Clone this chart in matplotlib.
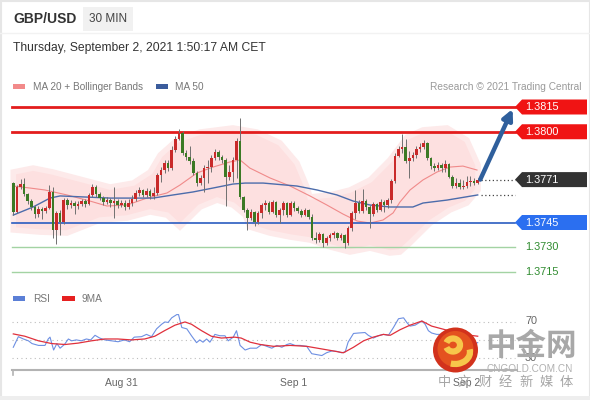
import matplotlib
matplotlib.use('Agg')
import matplotlib.pyplot as plt
import matplotlib.patches as patches
import matplotlib.transforms as mtransforms
import numpy as np

# ============================================================
# Data: GBP/USD 30 min candles
# ============================================================
first_open = 1.37689
closes = [1.37514, 1.37665, 1.37683, 1.37623, 1.37580, 1.37544, 1.37502, 1.37532, 1.37520, 1.37538,
          1.37635, 1.37405, 1.37508, 1.37453, 1.37586, 1.37556, 1.37568, 1.37550, 1.37562, 1.37580,
          1.37562, 1.37617, 1.37665, 1.37623, 1.37598, 1.37574, 1.37586, 1.37568, 1.37580, 1.37556,
          1.37568, 1.37544, 1.37568, 1.37592, 1.37629, 1.37647, 1.37617, 1.37641, 1.37611, 1.37629,
          1.37738, 1.37768, 1.37811, 1.37780, 1.37889, 1.37956, 1.37992, 1.37871, 1.37847, 1.37823,
          1.37750, 1.37689, 1.37720, 1.37780, 1.37786, 1.37841, 1.37877, 1.37847, 1.37829, 1.37726,
          1.37756, 1.37829, 1.37944, 1.37605, 1.37526, 1.37477, 1.37514, 1.37453, 1.37508, 1.37556,
          1.37568, 1.37514, 1.37574, 1.37495, 1.37526, 1.37568, 1.37495, 1.37568, 1.37538, 1.37520,
          1.37495, 1.37526, 1.37483, 1.37356, 1.37344, 1.37380, 1.37326, 1.37356, 1.37374, 1.37386,
          1.37356, 1.37374, 1.37326, 1.37417, 1.37508, 1.37568, 1.37520, 1.37580, 1.37544, 1.37502,
          1.37562, 1.37526, 1.37574, 1.37556, 1.37586, 1.37702, 1.37853, 1.37895, 1.37908, 1.37823,
          1.37841, 1.37859, 1.37895, 1.37908, 1.37932, 1.37841, 1.37792, 1.37780, 1.37799, 1.37780,
          1.37805, 1.37726, 1.37671, 1.37689, 1.37665, 1.37671, 1.37695, 1.37702, 1.37689, 1.37710]
highs = [1.37695, 1.37677, 1.37714, 1.37720, 1.37629, 1.37592, 1.37556, 1.37550, 1.37544, 1.37550,
         1.37677, 1.37665, 1.37520, 1.37526, 1.37598, 1.37598, 1.37586, 1.37580, 1.37580, 1.37592,
         1.37592, 1.37629, 1.37683, 1.37677, 1.37635, 1.37611, 1.37605, 1.37598, 1.37665, 1.37592,
         1.37586, 1.37586, 1.37592, 1.37617, 1.37647, 1.37665, 1.37653, 1.37659, 1.37653, 1.37665,
         1.37750, 1.37786, 1.37829, 1.37829, 1.37914, 1.37974, 1.38017, 1.38005, 1.37889, 1.37914,
         1.37841, 1.37762, 1.37738, 1.37799, 1.37829, 1.37859, 1.37895, 1.37889, 1.37859, 1.37841,
         1.37799, 1.37847, 1.37962, 1.38083, 1.37611, 1.37538, 1.37532, 1.37520, 1.37520, 1.37568,
         1.37586, 1.37580, 1.37586, 1.37580, 1.37538, 1.37580, 1.37574, 1.37580, 1.37580, 1.37550,
         1.37532, 1.37538, 1.37532, 1.37502, 1.37392, 1.37392, 1.37386, 1.37368, 1.37386, 1.37398,
         1.37392, 1.37386, 1.37380, 1.37429, 1.37520, 1.37647, 1.37586, 1.37653, 1.37592, 1.37556,
         1.37574, 1.37568, 1.37592, 1.37586, 1.37598, 1.37714, 1.37871, 1.37914, 1.37986, 1.37956,
         1.37883, 1.37877, 1.37914, 1.37932, 1.37950, 1.37938, 1.37847, 1.37811, 1.37817, 1.37811,
         1.37829, 1.37811, 1.37738, 1.37720, 1.37714, 1.37708, 1.37732, 1.37732, 1.37720, 1.37720]
lows = [1.37495, 1.37508, 1.37653, 1.37611, 1.37562, 1.37526, 1.37477, 1.37483, 1.37471, 1.37508,
        1.37532, 1.37356, 1.37320, 1.37374, 1.37441, 1.37532, 1.37538, 1.37502, 1.37532, 1.37550,
        1.37544, 1.37556, 1.37605, 1.37605, 1.37586, 1.37556, 1.37562, 1.37544, 1.37477, 1.37538,
        1.37544, 1.37526, 1.37532, 1.37550, 1.37580, 1.37611, 1.37605, 1.37605, 1.37592, 1.37592,
        1.37617, 1.37695, 1.37750, 1.37762, 1.37768, 1.37877, 1.37950, 1.37859, 1.37829, 1.37805,
        1.37738, 1.37671, 1.37677, 1.37635, 1.37689, 1.37756, 1.37829, 1.37829, 1.37811, 1.37550,
        1.37708, 1.37695, 1.37720, 1.37592, 1.37514, 1.37405, 1.37465, 1.37429, 1.37441, 1.37477,
        1.37526, 1.37502, 1.37508, 1.37483, 1.37447, 1.37495, 1.37483, 1.37489, 1.37520, 1.37508,
        1.37483, 1.37489, 1.37471, 1.37344, 1.37326, 1.37332, 1.37302, 1.37314, 1.37338, 1.37356,
        1.37344, 1.37344, 1.37295, 1.37314, 1.37398, 1.37471, 1.37508, 1.37508, 1.37526, 1.37417,
        1.37489, 1.37514, 1.37520, 1.37514, 1.37538, 1.37568, 1.37689, 1.37847, 1.37871, 1.37811,
        1.37720, 1.37823, 1.37841, 1.37877, 1.37895, 1.37829, 1.37774, 1.37762, 1.37768, 1.37756,
        1.37756, 1.37720, 1.37659, 1.37659, 1.37653, 1.37653, 1.37659, 1.37671, 1.37677, 1.37683]

# moving averages (bar index, price)
ma20_x = [0, 4.6, 8.8, 14.9, 21.3, 26, 31.6, 37.1, 42.7, 46.3, 51, 55.5, 60.2, 63, 65.7, 71.3,
          76.9, 82.4, 87.1, 91.6, 95.5, 99.1, 102.7, 105.5, 107.4, 110.2, 113.8, 117.7, 121.3, 124.9, 128.8]
ma20 = [1.37671, 1.37659, 1.37647, 1.37617, 1.37580, 1.37550, 1.37556, 1.37598, 1.37629, 1.37677,
        1.37750, 1.37786, 1.37817, 1.37829, 1.37780, 1.37720, 1.37671, 1.37611, 1.37556, 1.37501,
        1.37459, 1.37447, 1.37465, 1.37508, 1.37574, 1.37647, 1.37708, 1.37756, 1.37786, 1.37792, 1.37768]
ma50_x = [0, 5.5, 10.2, 13, 19.4, 26.9, 33.3, 38.8, 44.4, 49.9, 55.5, 61, 64.4, 69.4, 78.8, 84.4,
          89.9, 94.4, 99.1, 104.6, 111, 113.8, 120.5, 129]
ma50 = [1.37495, 1.37544, 1.37598, 1.37611, 1.37605, 1.37598, 1.37598, 1.37598, 1.37617, 1.37635,
        1.37659, 1.37683, 1.37689, 1.37689, 1.37671, 1.37647, 1.37617, 1.37580, 1.37556, 1.37544,
        1.37544, 1.37568, 1.37586, 1.37617]

# Bollinger bands (bar index, price)
bb_up_x = [0, 5.5, 11, 19.4, 26.9, 33.3, 38, 40.8, 45.5, 51.9, 61, 67.7, 74.1, 78.8, 81.6, 82.4,
           88, 93.5, 99.1, 104.6, 109.4, 113.8, 120.5, 126, 129.1]
bb_up = [1.37756, 1.37780, 1.37756, 1.37708, 1.37665, 1.37689, 1.37756, 1.37859, 1.37950, 1.37998,
         1.38023, 1.37998, 1.37932, 1.37811, 1.37665, 1.37605, 1.37617, 1.37647, 1.37708, 1.37829,
         1.37968, 1.38011, 1.38023, 1.37950, 1.37799]
bb_lo_x = [0, 7.4, 14.9, 24.1, 31.6, 38, 42.7, 46.3, 51.9, 56.6, 61, 64.4, 65.7, 71.3, 76.9, 82.4,
           88, 93.5, 99.1, 104.6, 107.4, 110.2, 115.8, 121.3, 126, 129.1]
bb_lo = [1.37405, 1.37392, 1.37386, 1.37465, 1.37477, 1.37514, 1.37495, 1.37423, 1.37544, 1.37586,
         1.37556, 1.37495, 1.37423, 1.37386, 1.37362, 1.37344, 1.37302, 1.37271, 1.37295, 1.37265,
         1.37271, 1.37326, 1.37447, 1.37526, 1.37568, 1.37647]

# Key levels
resistances = [1.3815, 1.3800]
pivot = 1.3771
support_main = 1.3745
supports_minor = [1.3730, 1.3715]

# RSI panel (bar index, value)
rsi_x = [0, 1.4, 2.8, 4.2, 5.2, 7, 8.8, 9.7, 10.2, 11.2, 12.1, 13, 14.2, 15.3, 16.2, 17.5, 18.9,
         20.3, 21.5, 22.7, 24, 25.4, 27.3, 29.1, 30.9, 32.3, 33.6, 35.6, 37, 38.4, 39.8, 41.2, 42.1,
         43, 44, 45.4, 45.9, 46.8, 48.2, 49.5, 50.9, 51.8, 52.7, 53.7, 54.6, 56, 57.4, 58.8, 59.7,
         61.1, 62, 63, 64.4, 65.8, 67.6, 69, 70.4, 71.8, 73.2, 74.6, 76, 76.9, 78.3, 79.7, 81.5,
         82.9, 84.3, 85.7, 87, 88.5, 89.9, 91.2, 92.2, 93, 94.5, 95.9, 97.7, 98.6, 100, 101.4,
         102.8, 104.2, 105.6, 107, 108.4, 109.3, 110.2, 111.6, 113.5, 114.4, 115.3, 116.2, 117.6,
         118.6, 120, 122, 124, 126, 128, 129]
rsi = [42, 53.5, 51, 49, 46, 44, 44, 51, 53, 39, 46, 41, 45, 51, 49, 50, 49, 51, 50, 55, 52, 50,
       49, 48, 50, 48, 53, 53.5, 56, 53.5, 62, 67, 69.5, 69, 74, 77.5, 77.5, 63.5, 62, 54.5, 47,
       50, 47.5, 51, 47.5, 56, 54.5, 54.5, 49, 53, 60, 44, 39, 41, 41, 45, 43, 41, 44, 42, 45, 46,
       44, 44, 43, 35, 34, 33, 36, 38, 37.5, 36, 37, 47.5, 57, 57.5, 58, 55, 52, 54.5, 56, 55,
       63.5, 73, 74, 69, 65, 66, 70.5, 67, 60, 57.5, 56, 56, 52, 48, 46, 47, 46, 47]
ma9_x = [0, 3.2, 7, 10.7, 14.4, 18, 21.7, 25.4, 29, 32.8, 36.5, 39.3, 42, 44.9, 47.7, 49.5, 52.3,
         55, 57.8, 61.5, 63.3, 65.8, 68.6, 72.3, 76.9, 81.5, 85.2, 88.9, 91.7, 94.5, 97.3, 100,
         102.8, 104.7, 107.4, 110.2, 113.5, 116.2, 118.6, 121, 124, 127, 129]
ma9 = [56.5, 54, 49, 46, 45, 46.5, 49, 51, 51, 50, 51, 54, 60, 66, 69.5, 67, 60, 54, 52, 53, 52,
       47.5, 45, 43, 44, 43, 40.5, 38, 36, 42, 49, 53, 56, 55, 61, 66, 70.5, 65, 62.5, 60, 57, 55, 54]
rsi_levels = [70, 50, 30]

day_ticks = [30, 78, 126]
day_labels = ['Aug 31', 'Sep 1', 'Sep 2']

# ============================================================
# Layout (pixel geometry of the 590x400 picture)
# ============================================================
W, H = 590, 400
BAR_PX, BAR0_PX = 3.6, 13.3          # bar spacing, x of first bar
PX_PER_PRICE, REF_PRICE, REF_Y = 16500, 1.3815, 107
RSI_PX, RSI_MID_Y = 0.92, 339.9      # px per RSI unit, y of RSI 50
LINE_X0, LINE_X1 = 12, 515

plt.rcParams['font.family'] = ['Liberation Sans', 'DejaVu Sans']

RED_C = '#c92a2a'
GREEN_C = '#3c7a25'

fig = plt.figure(figsize=(W / 100, H / 100), dpi=100)
fig.patch.set_facecolor('white')

# background / decoration axes in pixels
deco = fig.add_axes([0, 0, 1, 1])
deco.set_xlim(0, W)
deco.set_ylim(H, 0)
deco.axis('off')

xlim = (-BAR0_PX / BAR_PX, (W - BAR0_PX) / BAR_PX)

ax = fig.add_axes([0, 0, 1, 1], facecolor='none')
ax.set_xlim(*xlim)
ax.set_ylim(REF_PRICE - (H - REF_Y) / PX_PER_PRICE, REF_PRICE + REF_Y / PX_PER_PRICE)
ax.axis('off')

rax = fig.add_axes([0, 0, 1, 1], facecolor='none')
rax.set_xlim(*xlim)
rax.set_ylim(50 - (H - RSI_MID_Y) / RSI_PX, 50 + RSI_MID_Y / RSI_PX)
rax.axis('off')

top = fig.add_axes([0, 0, 1, 1], facecolor='none')
top.set_xlim(0, W)
top.set_ylim(H, 0)
top.axis('off')

# ============================================================
# Header
# ============================================================
deco.add_patch(patches.Rectangle((0.5, 0.5), W - 1, H - 1, fill=False, ec='#e6e6e6', lw=1.5))
deco.add_patch(patches.Rectangle((0, 396), W, 4, fc='#eeeeee', ec='none'))
deco.plot([0, W], [33, 33], color='#f2f2f2', lw=1)
deco.text(13, 19, 'GBP/USD', fontsize=10, fontweight='bold', color='#333333', va='center')
deco.add_patch(patches.Rectangle((83, 7), 50, 24, fc='#f1f1f1', ec='none'))
deco.text(108, 19, '30 MIN', fontsize=8.5, color='#444444', ha='center', va='center')
deco.text(13, 48.5, 'Thursday, September 2, 2021 1:50:17 AM CET', fontsize=8.7,
          color='#333333', va='center')

# legend row
deco.add_patch(patches.Rectangle((13, 84), 12, 5, fc='#f28a8a', ec='none'))
deco.text(33, 86.5, 'MA 20 + Bollinger Bands', fontsize=7.2, color='#777777', va='center')
deco.add_patch(patches.Rectangle((156, 84), 12, 5, fc='#3b5c9c', ec='none'))
deco.text(175, 86.5, 'MA 50', fontsize=7.2, color='#777777', va='center')
deco.text(581, 86.5, 'Research \u00a9 2021 Trading Central', fontsize=7.3, color='#9a9a9a',
          ha='right', va='center')

# ============================================================
# Price panel
# ============================================================
ax.fill(np.r_[bb_up_x, bb_lo_x[::-1]], np.r_[bb_up, bb_lo[::-1]],
        fc='#fde0e0', ec='#fdeaea', lw=4, zorder=1)
ax.plot(ma20_x, ma20, color='#f08a8a', lw=0.8, zorder=2)
ax.plot(ma50_x, ma50, color='#4c6cab', lw=1.0, zorder=2)

fx0, fx1 = LINE_X0 / W, LINE_X1 / W
for lv in resistances:
    ax.axhline(lv, xmin=fx0, xmax=fx1, color='#e31d1d', lw=2.0, zorder=2.5)
ax.axhline(support_main, xmin=fx0, xmax=fx1, color='#2a5cc0', lw=1.2, zorder=2.5)
for lv in supports_minor:
    ax.axhline(lv, xmin=fx0, xmax=fx1, color='#a3d3a3', lw=1.0, zorder=2.5)

# candles
o = np.r_[first_open, closes[:-1]]
c = np.array(closes)
idx = np.arange(len(c))
ax.vlines(idx, lows, highs, color='#707070', lw=0.7, zorder=3)
body = np.maximum(np.abs(c - o), 0.00004)
ax.bar(idx, body, bottom=np.minimum(o, c), width=0.72,
       color=np.where(c >= o, RED_C, GREEN_C), lw=0, zorder=4)

# dotted guides to the tags
last_fx = (BAR0_PX + BAR_PX * (len(c) - 1) + 3) / W
ax.axhline(c[-1], xmin=last_fx, xmax=fx1, color='#444444', lw=0.9, ls=(0, (1, 2)), zorder=3)
ax.axhline(ma50[-1], xmin=last_fx, xmax=fx1, color='#444444', lw=0.9, ls=(0, (1, 2)), zorder=3)

# price tags
blend = mtransforms.blended_transform_factory(ax.transAxes, ax.transData)
hh = 7.5 / PX_PER_PRICE
tx0, tx1, tx2 = 515 / W, 522 / W, 587 / W


def price_tag(level, face):
    poly = patches.Polygon([(tx0, level), (tx1, level + hh), (tx2, level + hh),
                            (tx2, level - hh), (tx1, level - hh)], closed=True,
                           transform=blend, fc=face, ec='none', zorder=6)
    ax.add_patch(poly)
    ax.text(525 / W, level, f'{level:.4f}', transform=blend, fontsize=7.8, color='white',
            va='center', zorder=7)


for lv in resistances:
    price_tag(lv, '#f01414')
price_tag(pivot, '#333333')
price_tag(support_main, '#2b6ff0')
for lv in supports_minor:
    ax.text(525 / W, lv, f'{lv:.4f}', transform=blend, fontsize=7.8, color='#2e8b2e',
            va='center', zorder=7)

# expected move arrow
ax.annotate('', xy=(138.7, 1.38138), xytext=(len(c) - 0.3, c[-1]),
            arrowprops=dict(arrowstyle='-|>', color='#2f5f9c', lw=3.2, mutation_scale=15,
                            shrinkA=0, shrinkB=0), zorder=8)

# ============================================================
# RSI panel
# ============================================================
deco.add_patch(patches.Rectangle((13, 296), 12, 5, fc='#5b7fd6', ec='none'))
deco.text(33, 298.5, 'RSI', fontsize=7.3, color='#777777', va='center')
deco.add_patch(patches.Rectangle((62, 296), 13, 5, fc='#e62020', ec='none'))
deco.text(82, 298.5, '9MA', fontsize=7.3, color='#777777', va='center')

for lv in rsi_levels:
    rax.axhline(lv, xmin=fx0, xmax=fx1, color='#bdbdbd', lw=0.8, ls=(0, (1, 3)))
rblend = mtransforms.blended_transform_factory(rax.transAxes, rax.transData)
for lv in (rsi_levels[0], rsi_levels[-1]):
    rax.text(525 / W, lv, str(lv), transform=rblend, fontsize=7.8, color='#666666', va='center')

rax.plot(rsi_x, rsi, color='#6d8fe2', lw=0.8)
rax.plot(ma9_x, ma9, color='#e0303c', lw=0.9)

# time axis
deco.plot([LINE_X0, 517], [369.5, 369.5], color='#b3b3b3', lw=1.5)
deco.plot([12.7, 12.7], [369.5, 374.5], color='#b3b3b3', lw=1.2)
tblend = mtransforms.blended_transform_factory(rax.transData, rax.transAxes)
for pos, lab in zip(day_ticks, day_labels):
    rax.text(pos, 1 - 383 / H, lab, transform=tblend, fontsize=7.5, color='#666666',
             ha='center', va='center')

# ============================================================
# Watermark
# ============================================================
top.add_patch(patches.Circle((455.5, 350), 22.5, fc='#d2321c', ec='none'))
top.add_patch(patches.Circle((455.5, 349), 18, fc='#e4521f', ec='none'))
top.add_patch(patches.Arc((453, 345), 14, 13, theta1=200, theta2=520, lw=4.5, color='#f7c64a'))
top.add_patch(patches.Arc((455, 352), 30, 24, theta1=-10, theta2=110, lw=4.5, color='#f7c64a'))
top.text(531, 346, '中金网', fontsize=22, fontweight='bold', color='#a8a8a8', ha='center',
         va='center', family=['Noto Sans CJK SC', 'DejaVu Sans'])
top.text(530, 368.5, 'CNGOLD.COM.CN', fontsize=7.2, color='#b0b0b0', ha='center', va='center')
for k, ch in enumerate('中文财经新媒体'):
    top.text(444 + k * 20.4, 382.5, ch, fontsize=9.5, color='#a5a5a5', ha='center', va='center',
             family=['Noto Sans CJK SC', 'DejaVu Sans'])

fig.savefig('out.png', dpi=100, facecolor='white')
plt.close(fig)
